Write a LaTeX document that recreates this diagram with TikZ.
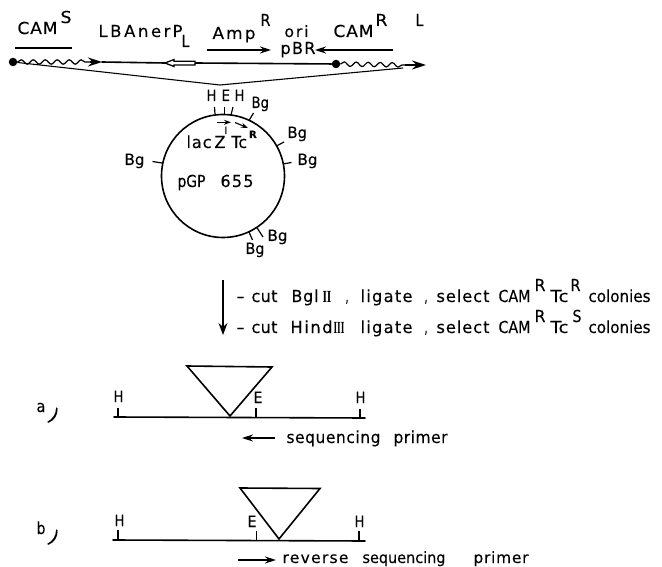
\documentclass[tikz,border=0pt]{standalone}
\usepackage{fontspec}
\usepackage{graphicx}
\setmainfont[FakeBold=0.2]{DejaVu Sans}
\newfontfamily\romf{Liberation Serif}
\usetikzlibrary{arrows.meta,decorations.pathmorphing}
\newcommand{\fitw}[2]{\resizebox{#1pt}{\height}{#2}}
% piece of text at an offset from the node's origin, with a given width and letter spacing
\newcommand{\at}[5][0]{\rlap{\hspace{#2pt}\raisebox{#3pt}{\fitw{#4}{\addfontfeature{LetterSpace=#1}#5}}}}
\newcommand{\rom}[1]{{\romf\bfseries\fontsize{17}{17}\selectfont #1}}
\newcommand{\paren}{\rlap{\hspace{9.5pt}\raisebox{-7pt}{\rotatebox{-32}{\fontsize{19}{19}\selectfont)}}}}
\tikzset{
 lab/.style={anchor=base west,inner sep=0pt,outer sep=0pt,font=\fontsize{16.5}{18}\selectfont},
 small/.style={lab,font=\fontsize{15.5}{17}\selectfont},
 ln/.style={line width=1.6pt,line cap=round},
 tick/.style={line width=1.2pt},
 tip/.style={-{Stealth[length=11pt,width=7pt]},line width=1.3pt},
 smalltip/.style={-{Stealth[length=7pt,width=5pt]},line width=1.1pt},
 wave/.style={line width=1.2pt,decorate,decoration={snake,amplitude=2.2pt,segment length=12pt}},
 dot/.style={circle,fill=black,inner sep=0pt,minimum size=8.5pt},
 bigtip/.style={-{Stealth[length=14pt,width=9pt]},line width=1.3pt},
}
\begin{document}
\begin{tikzpicture}[x=1pt,y=-1pt]
\useasboundingbox (0,0) rectangle (662,567);
% top labels
\node[lab] (cams) at (17,34) {\at[5]{0}{0}{40}{CAM}\at{43}{11}{11}{S}};
\coordinate (ua) at (15,48); \coordinate (ub) at (72,48);
\draw[tick] (ua) -- (ub);
\node[lab] (lba) at (98,37) {\at[16]{0}{0}{72}{LBAner}\at{74}{0}{10}{P}\at{83}{-10}{8}{L}};
\node[lab] (amp) at (212,37) {\at[12]{0}{-2}{43}{Amp}\at{48}{11}{10}{R}};
\node[small] (ori) at (284,37) {\at[12]{0}{0}{24}{ori}};
\node[lab] (pbr) at (280,54) {\at[8]{0}{0}{35}{pBR}};
\node[lab] (camr) at (333,37) {\at[5]{0}{0}{40}{CAM}\at{42}{11}{12}{R}};
\node[lab] (lr) at (415,26) {\at{0}{0}{8}{L}};
\coordinate (a1) at (207,50); \coordinate (a2) at (271,50);
\coordinate (a3) at (393,50); \coordinate (a4) at (315,50);
\draw[tip] (a1) -- (a2);
\draw[tip] (a3) -- (a4);
% map
\node[dot] (d1) at (13,62) {};
\node[dot] (d2) at (336,64) {};
\coordinate (w1) at (90,62); \coordinate (t1) at (102,62);
\coordinate (w2) at (405,65); \coordinate (t2) at (426,65);
\coordinate (o1) at (165,63); \coordinate (o2) at (195,63);
\coordinate (v) at (220,85); \coordinate (ve) at (403,68);
\draw[wave] (d1) -- (w1);
\draw[wave] (d2) -- (w2);
\draw[bigtip] (w1) -- (t1);
\draw[bigtip] (w2) -- (t2);
\draw[ln] (t1) -- (o1);
\draw[ln] (o2) -- (d2);
\draw[line width=1.3pt,fill=white] (165,63) -- (174,59.5) -- (174,61.2) -- (195,61.2) -- (195,65) -- (174,65) -- (174,66.5) -- cycle;
\draw[line width=1.1pt] (d1) -- (v) -- (ve);
% plasmid
\node[circle,draw,line width=1.6pt,minimum size=123pt,inner sep=0pt] (pl) at (223,176) {};
\coordinate (h1a) at (215,114); \coordinate (h1b) at (214.5,107);
\coordinate (ea) at (224.5,114); \coordinate (eb) at (224.5,107);
\coordinate (h2a) at (231,115); \coordinate (h2b) at (233,107);
\coordinate (b1a) at (249,120.5); \coordinate (b1b) at (253.5,113);
\coordinate (b2a) at (276.5,146); \coordinate (b2b) at (284,142);
\coordinate (b3a) at (283,164); \coordinate (b3b) at (291.5,162.5);
\coordinate (b4a) at (162,163); \coordinate (b4b) at (152.5,161.5);
\coordinate (b5a) at (249,232); \coordinate (b5b) at (252.5,240);
\coordinate (b6a) at (256.5,227); \coordinate (b6b) at (263,237);
\foreach \p in {h1,e,h2,b1,b2,b3,b4,b5,b6} \draw[tick] (\p a) -- (\p b);
\node[small] (th1) at (206,101) {\at{0}{0}{10}{H}};
\node[small] (te) at (221,101) {\at{0}{0}{8.5}{E}};
\node[small] (th2) at (234,101) {\at{0}{0}{10}{H}};
\node[small] (tb1) at (251,108) {\at{0}{0}{17.5}{Bg}};
\node[small] (tb2) at (287,138) {\at{0}{0}{19.5}{Bg}};
\node[small] (tb3) at (297,165) {\at{0}{0}{20}{Bg}};
\node[small] (tb4) at (124,165) {\at{0}{0}{20}{Bg}};
\node[small] (tb5) at (267,241) {\at{0}{0}{20}{Bg}};
\node[small] (tb6) at (245,254) {\at{0}{0}{19}{Bg}};
\node[lab] (lac) at (186,148) {\at[6]{0}{0}{25}{lac}\at{28}{0}{11}{Z}};
\node[lab] (prime) at (224.5,134) {\fontsize{10}{10}\selectfont I};
\node[lab] (tc) at (231,148) {\at{0}{0}{15.5}{Tc}};
\node[lab,font=\fontsize{10}{10}\selectfont\bfseries] (tcr) at (249,138) {R};
\coordinate (p1) at (216.5,122.3); \coordinate (p2) at (231,122.3);
\coordinate (p3) at (235,122.5); \coordinate (p4) at (248,128);
\draw[smalltip] (p1) -- (p2);
\draw[smalltip] (p3) -- (p4);
\node[lab] (gp) at (177,187) {\at{0}{0}{28}{pGP}\at[8]{43}{0}{33}{655}};
% steps
\coordinate (da) at (223,280); \coordinate (db) at (223,335);
\draw[-{Stealth[length=12pt,width=9pt]},line width=1.3pt] (da) -- (db);
\node[lab] (s1) at (236,302) {\at{0}{0}{8}{–}\at[3]{15}{0}{26}{cut}\at[5]{55}{0}{27}{Bgl}\at{86}{0}{9}{\rom{II}}\at{109}{0}{3}{,}\at[8]{124}{0}{52}{ligate}\at{188}{0}{3}{,}\at[6]{200}{0}{53}{select}\at{262}{0}{32}{CAM}\at{298}{11}{11}{R}\at{314}{0}{18}{Tc}\at{334}{11}{10}{R}\at{352}{0}{62}{colonies}};
\node[lab] (s2) at (236,333) {\at{0}{0}{8}{–}\at[3]{15}{0}{26}{cut}\at[10]{54}{0}{42}{Hind}\at{97}{0}{11}{\rom{III}}\at[8]{124}{0}{52}{ligate}\at{188}{0}{3}{,}\at[6]{200}{0}{53}{select}\at{262}{0}{32}{CAM}\at{298}{11}{11}{R}\at{314}{0}{18}{Tc}\at{336}{11}{9}{S}\at{352}{0}{62}{colonies}};
% a
\coordinate (la1) at (114,417); \coordinate (la2) at (365,418);
\draw[ln] (la1) -- (la2);
\coordinate (ta1) at (118,417); \coordinate (ta2) at (118,408);
\coordinate (ta3) at (256,417); \coordinate (ta4) at (256,408);
\coordinate (ta5) at (360,418); \coordinate (ta6) at (360,409);
\draw[tick] (ta1) -- (ta2) (ta3) -- (ta4) (ta5) -- (ta6);
\coordinate (tra) at (187,366); \coordinate (trb) at (272,367); \coordinate (trc) at (230,416);
\draw[line width=1.6pt,line join=miter] (tra) -- (trb) -- (trc) -- cycle;
\node[small] (ah1) at (113,402) {\at{0}{0}{10}{H}};
\node[small] (ae) at (253,403) {\at{0}{0}{9}{E}};
\node[small] (ah2) at (355,403) {\at{0}{0}{10}{H}};
\node[lab] (alab) at (36,412) {\at{0}{0}{9}{a}\paren};
\coordinate (apa) at (275,438); \coordinate (apb) at (242,438);
\draw[tip] (apa) -- (apb);
\node[lab] (seq) at (286,443) {\at[4]{0}{0}{94}{sequencing}\at[3]{107}{0}{54}{primer}};
% b
\coordinate (lb1) at (113,540); \coordinate (lb2) at (365,541);
\draw[ln] (lb1) -- (lb2);
\coordinate (tb1a) at (118,540); \coordinate (tb1b) at (118,530);
\coordinate (tb2a) at (256.5,540); \coordinate (tb2b) at (256.5,531);
\coordinate (tb3a) at (359,541); \coordinate (tb3b) at (359,531);
\draw[tick] (tb1a) -- (tb1b) (tb2a) -- (tb2b) (tb3a) -- (tb3b);
\coordinate (trd) at (240,488); \coordinate (tre) at (320,488.5); \coordinate (trf) at (279,539);
\draw[line width=1.6pt,line join=miter] (trd) -- (tre) -- (trf) -- cycle;
\node[small] (bh1) at (114,526) {\at{0}{0}{10}{H}};
\node[small] (be) at (247,527) {\at{0}{0}{9}{E}};
\node[small] (bh2) at (354,527) {\at{0}{0}{10}{H}};
\node[lab] (blab) at (36,534) {\at{0}{0}{9}{b}\paren};
\coordinate (bpa) at (238,560); \coordinate (bpb) at (276,560);
\draw[tip] (bpa) -- (bpb);
\node[small] (rev) at (282,563) {\at[8]{0}{0}{66}{reverse}\at{80}{0}{83}{sequencing}\at[5]{191}{0}{55}{primer}};
\end{tikzpicture}
\end{document}
